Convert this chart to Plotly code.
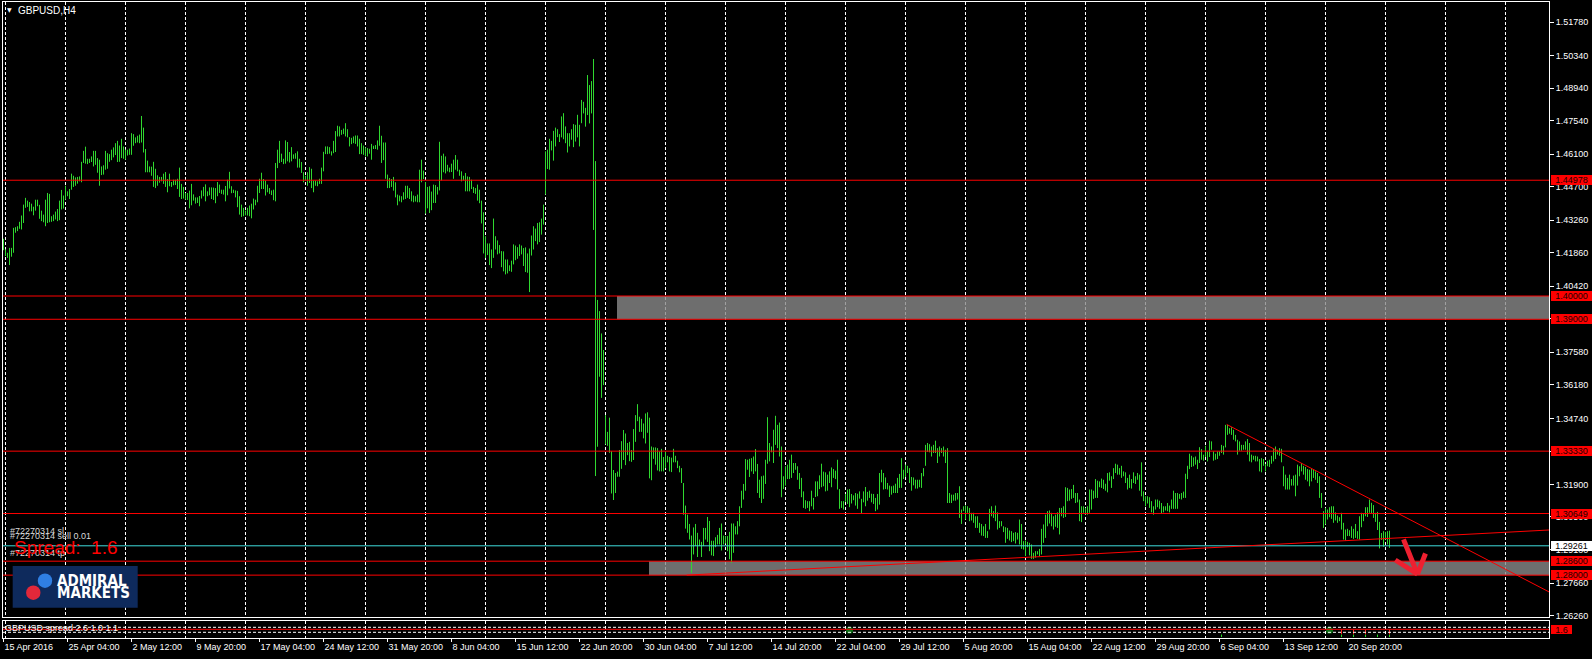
import plotly.graph_objects as go

# ---------------- DATA (H4 bars: high, low) ----------------
bars_apr_may = [
(1.4246,1.4197),(1.4200,1.4172),(1.4186,1.4164),(1.4207,1.4133),(1.4207,1.4169),(1.4293,1.4186),(1.4296,1.4272),(1.4300,1.4279),(1.4319,1.4289),(1.4346,1.4286),
(1.4393,1.4314),(1.4422,1.4379),(1.4410,1.4383),(1.4404,1.4364),(1.4397,1.4364),(1.4384,1.4347),(1.4414,1.4367),(1.4414,1.4386),(1.4392,1.4332),(1.4367,1.4322),
(1.4350,1.4317),(1.4414,1.4300),(1.4443,1.4314),(1.4439,1.4317),(1.4343,1.4319),(1.4350,1.4322),(1.4363,1.4329),(1.4374,1.4322),(1.4410,1.4326),(1.4456,1.4372),
(1.4432,1.4376),(1.4474,1.4414),(1.4450,1.4429),(1.4460,1.4417),(1.4526,1.4457),(1.4517,1.4469),(1.4510,1.4474),(1.4512,1.4483),(1.4514,1.4493),(1.4577,1.4489),
(1.4624,1.4572),(1.4642,1.4569),(1.4590,1.4567),(1.4590,1.4572),(1.4600,1.4576),(1.4624,1.4557),(1.4624,1.4564),(1.4593,1.4530),(1.4586,1.4474),(1.4557,1.4520),
(1.4562,1.4522),(1.4624,1.4543),(1.4614,1.4547),(1.4610,1.4577),(1.4629,1.4584),(1.4639,1.4596),(1.4657,1.4606),(1.4667,1.4576),(1.4647,1.4577),(1.4676,1.4593),
(1.4643,1.4590),(1.4629,1.4586),(1.4629,1.4604),(1.4634,1.4607),(1.4700,1.4607),(1.4696,1.4646),(1.4682,1.4657),(1.4689,1.4660),(1.4694,1.4657),(1.4774,1.4660),
(1.4724,1.4617),(1.4632,1.4532),(1.4582,1.4532),(1.4557,1.4532),(1.4556,1.4517),(1.4577,1.4469),(1.4547,1.4464),(1.4519,1.4474),(1.4512,1.4487),(1.4512,1.4493),
(1.4526,1.4482),(1.4533,1.4469),(1.4503,1.4446),(1.4526,1.4472),(1.4490,1.4469),(1.4500,1.4476),(1.4500,1.4477),(1.4504,1.4460),(1.4552,1.4426),(1.4482,1.4417),
(1.4469,1.4419),(1.4443,1.4414),(1.4443,1.4413),(1.4453,1.4377),(1.4482,1.4390),(1.4437,1.4410),(1.4424,1.4397),(1.4424,1.4400),(1.4430,1.4386),(1.4454,1.4419),
(1.4469,1.4429),(1.4480,1.4407),(1.4450,1.4429),(1.4467,1.4433),(1.4467,1.4417),(1.4466,1.4413),(1.4464,1.4399),(1.4490,1.4429),(1.4479,1.4443),(1.4457,1.4439),
(1.4457,1.4436),(1.4473,1.4407),(1.4500,1.4433),(1.4534,1.4462),(1.4472,1.4442),(1.4457,1.4443),(1.4454,1.4424),(1.4452,1.4382),(1.4429,1.4350),(1.4393,1.4340),
(1.4379,1.4343),(1.4367,1.4347),(1.4379,1.4346),(1.4389,1.4343),(1.4397,1.4334),(1.4419,1.4372),(1.4414,1.4390),(1.4474,1.4403),(1.4504,1.4443),(1.4530,1.4460),
(1.4503,1.4460),(1.4496,1.4432),(1.4479,1.4446),(1.4464,1.4439),(1.4454,1.4434),(1.4457,1.4412),(1.4572,1.4407),(1.4629,1.4550),(1.4667,1.4572),(1.4612,1.4576),
(1.4590,1.4567),(1.4669,1.4569),(1.4662,1.4579),(1.4619,1.4574),(1.4640,1.4579),(1.4609,1.4590),(1.4614,1.4590),(1.4622,1.4552),(1.4590,1.4552),(1.4576,1.4529),
]

bars_may_jun = [
(1.4532,1.4489),(1.4517,1.4496),(1.4532,1.4474),(1.4554,1.4486),(1.4547,1.4464),(1.4496,1.4446),(1.4496,1.4474),(1.4493,1.4472),(1.4504,1.4482),(1.4552,1.4482),
(1.4620,1.4536),(1.4643,1.4610),(1.4643,1.4610),(1.4640,1.4612),(1.4622,1.4604),(1.4667,1.4614),(1.4709,1.4619),(1.4732,1.4686),(1.4729,1.4686),(1.4714,1.4693),
(1.4720,1.4696),(1.4743,1.4686),(1.4717,1.4682),(1.4683,1.4643),(1.4680,1.4653),(1.4686,1.4657),(1.4690,1.4654),(1.4690,1.4643),(1.4676,1.4610),(1.4657,1.4610),
(1.4647,1.4607),(1.4639,1.4600),(1.4636,1.4600),(1.4633,1.4612),(1.4654,1.4586),(1.4646,1.4632),(1.4649,1.4632),(1.4669,1.4629),(1.4732,1.4646),(1.4689,1.4572),
(1.4660,1.4584),(1.4660,1.4504),(1.4522,1.4464),(1.4507,1.4464),(1.4503,1.4469),(1.4512,1.4453),(1.4489,1.4424),(1.4436,1.4390),(1.4432,1.4407),(1.4429,1.4403),
(1.4446,1.4414),(1.4474,1.4417),(1.4474,1.4422),(1.4464,1.4417),(1.4450,1.4407),(1.4432,1.4403),(1.4429,1.4406),(1.4436,1.4403),(1.4543,1.4403),(1.4586,1.4489),
(1.4539,1.4503),(1.4490,1.4354),(1.4469,1.4377),(1.4472,1.4357),(1.4449,1.4369),(1.4479,1.4400),(1.4477,1.4400),(1.4469,1.4436),(1.4663,1.4454),(1.4603,1.4497),
(1.4612,1.4532),(1.4600,1.4527),(1.4564,1.4536),(1.4552,1.4532),(1.4569,1.4533),(1.4586,1.4504),(1.4606,1.4543),(1.4586,1.4536),(1.4543,1.4517),(1.4536,1.4493),
(1.4517,1.4497),(1.4529,1.4450),(1.4514,1.4450),(1.4512,1.4450),(1.4500,1.4460),(1.4469,1.4443),(1.4464,1.4439),(1.4479,1.4410),(1.4457,1.4399),(1.4410,1.4312),
(1.4360,1.4183),(1.4257,1.4164),(1.4226,1.4176),(1.4226,1.4133),(1.4200,1.4120),(1.4333,1.4164),(1.4257,1.4200),(1.4239,1.4179),(1.4219,1.4183),(1.4193,1.4124),
(1.4192,1.4106),(1.4157,1.4093),(1.4157,1.4097),(1.4132,1.4107),(1.4152,1.4104),(1.4222,1.4136),(1.4217,1.4154),(1.4210,1.4160),(1.4222,1.4172),(1.4217,1.4179),
(1.4206,1.4129),(1.4209,1.4103),(1.4183,1.4100),(1.4204,1.4017),(1.4260,1.4174),(1.4300,1.4200),(1.4290,1.4236),(1.4314,1.4222),(1.4317,1.4232),(1.4333,1.4264),
(1.4393,1.4307),(1.4622,1.4436),(1.4629,1.4546),(1.4676,1.4543),(1.4667,1.4626),(1.4710,1.4582),(1.4724,1.4643),(1.4717,1.4683),(1.4696,1.4662),(1.4772,1.4682),
(1.4786,1.4674),(1.4729,1.4657),(1.4700,1.4617),(1.4700,1.4643),(1.4717,1.4672),(1.4739,1.4640),(1.4736,1.4664),(1.4779,1.4682),(1.4736,1.4643),
]

bars_brexit = [
(1.4843,1.4743),(1.4835,1.4785),(1.4809,1.4728),(1.4950,1.4778),(1.4907,1.4742),(1.4924,1.4785),(1.5019,1.4284),(1.4580,1.3226),(1.3983,1.3352),(1.3935,1.3653),
(1.3839,1.3562),(1.3768,1.3617),(1.3488,1.3362),(1.3416,1.3356),(1.3477,1.3326),(1.3333,1.3151),(1.3252,1.3123),(1.3239,1.3153),(1.3245,1.3223),(1.3338,1.3223),
(1.3376,1.3257),(1.3424,1.3295),(1.3409,1.3273),(1.3368,1.3316),(1.3373,1.3290),(1.3338,1.3287),(1.3428,1.3295),(1.3488,1.3373),(1.3535,1.3462),(1.3481,1.3416),
(1.3472,1.3416),(1.3452,1.3388),(1.3495,1.3366),(1.3500,1.3412),(1.3477,1.3216),
]

bars_jun_aug = [
(1.3353,1.3208),(1.3349,1.3300),(1.3349,1.3275),(1.3346,1.3250),(1.3332,1.3246),(1.3343,1.3246),(1.3308,1.3246),(1.3332,1.3260),(1.3313,1.3285),(1.3308,1.3246),
(1.3305,1.3243),(1.3343,1.3285),(1.3313,1.3285),(1.3292,1.3260),(1.3270,1.3242),(1.3260,1.3196),(1.3196,1.3060),(1.3099,1.3000),(1.3060,1.2982),(1.3020,1.2953),
(1.2970,1.2810),(1.3005,1.2889),(1.3020,1.2925),(1.2982,1.2878),(1.2953,1.2925),(1.2943,1.2878),(1.3003,1.2925),(1.3003,1.2953),(1.3050,1.2943),(1.3033,1.2903),
(1.2948,1.2885),(1.2948,1.2882),(1.2963,1.2920),(1.2973,1.2932),(1.3003,1.2932),(1.3022,1.2906),(1.2970,1.2932),(1.2968,1.2936),(1.2968,1.2903),(1.2986,1.2868),
(1.3022,1.2853),(1.3022,1.2896),(1.3010,1.2975),(1.3032,1.2975),(1.3096,1.3010),(1.3163,1.3089),(1.3192,1.3125),(1.3299,1.3163),(1.3296,1.3253),(1.3300,1.3222),
(1.3303,1.3246),(1.3310,1.3235),(1.3342,1.3246),(1.3278,1.3153),(1.3210,1.3132),(1.3225,1.3110),(1.3228,1.3128),(1.3296,1.3192),(1.3479,1.3279),(1.3368,1.3289),
(1.3353,1.3328),(1.3425,1.3282),(1.3485,1.3360),(1.3446,1.3346),(1.3456,1.3310),(1.3353,1.3135),(1.3225,1.3170),(1.3268,1.3185),(1.3275,1.3213),(1.3296,1.3213),
(1.3318,1.3218),(1.3282,1.3239),(1.3282,1.3253),(1.3268,1.3210),(1.3239,1.3170),(1.3218,1.3135),(1.3160,1.3089),(1.3122,1.3085),(1.3118,1.3089),(1.3118,1.3075),
(1.3163,1.3096),(1.3132,1.3082),(1.3203,1.3136),(1.3203,1.3139),(1.3229,1.3170),(1.3279,1.3178),(1.3245,1.3182),(1.3242,1.3160),(1.3232,1.3163),(1.3246,1.3196),
(1.3263,1.3178),(1.3256,1.3218),(1.3249,1.3213),(1.3296,1.3168),(1.3170,1.3085),(1.3118,1.3089),(1.3118,1.3082),(1.3149,1.3115),(1.3168,1.3106),(1.3170,1.3092),
(1.3149,1.3108),(1.3143,1.3122),(1.3153,1.3099),(1.3150,1.3085),(1.3160,1.3129),(1.3128,1.3063),(1.3160,1.3113),(1.3179,1.3096),(1.3158,1.3120),(1.3163,1.3132),
(1.3150,1.3113),(1.3149,1.3106),(1.3132,1.3075),(1.3149,1.3082),(1.3239,1.3103),(1.3253,1.3199),(1.3239,1.3168),(1.3220,1.3170),(1.3196,1.3168),(1.3185,1.3136),
(1.3182,1.3146),(1.3185,1.3153),(1.3193,1.3153),(1.3218,1.3153),(1.3235,1.3175),(1.3303,1.3175),(1.3253,1.3213),(1.3275,1.3222),(1.3270,1.3239),(1.3260,1.3196),
(1.3222,1.3163),(1.3220,1.3186),(1.3210,1.3172),(1.3210,1.3172),(1.3210,1.3178),(1.3239,1.3175),(1.3260,1.3225),(1.3360,1.3270),(1.3368,1.3330),(1.3363,1.3328),
(1.3353,1.3310),(1.3360,1.3325),(1.3378,1.3325),(1.3346,1.3282),(1.3353,1.3310),(1.3346,1.3325),(1.3353,1.3310),(1.3339,1.3282),(1.3346,1.3110),(1.3153,1.3110),
(1.3146,1.3110),(1.3146,1.3120),(1.3153,1.3120),(1.3153,1.3125),(1.3182,1.3046),(1.3082,1.3020),(1.3096,1.3075),(1.3100,1.3039),(1.3096,1.3068),(1.3089,1.3032),
(1.3068,1.3035),(1.3068,1.3025),(1.3053,1.3003),(1.3053,1.3003),(1.3025,1.2982),
]

bars_aug_sep = [
(1.3020,1.2970),(1.3010,1.2968),(1.3020,1.2960),(1.2989,1.2960),(1.3085,1.2996),(1.3096,1.3053),(1.3075,1.3046),(1.3099,1.3032),(1.3070,1.2996),(1.3032,1.3003),
(1.3032,1.3010),(1.3010,1.2985),(1.3006,1.2939),(1.3003,1.2956),(1.2992,1.2949),(1.2989,1.2942),(1.2982,1.2946),(1.2985,1.2936),(1.2982,1.2953),(1.3039,1.2932),
(1.3020,1.2913),(1.2946,1.2910),(1.2949,1.2882),(1.2943,1.2920),(1.2939,1.2885),(1.2932,1.2870),(1.2896,1.2870),(1.2903,1.2875),(1.2903,1.2889),(1.2913,1.2882),
(1.2999,1.2889),(1.3018,1.2939),(1.3060,1.2960),(1.3075,1.3010),(1.3078,1.3022),(1.3068,1.3010),(1.3053,1.2996),(1.3060,1.3008),(1.3070,1.3003),(1.3089,1.2975),
(1.3089,1.3053),(1.3096,1.3046),(1.3178,1.3050),(1.3175,1.3118),(1.3168,1.3120),(1.3170,1.3128),(1.3188,1.3132),(1.3153,1.3110),(1.3153,1.3113),(1.3125,1.3032),
(1.3096,1.3028),(1.3096,1.3068),(1.3089,1.3060),(1.3096,1.3060),(1.3168,1.3068),(1.3168,1.3082),(1.3163,1.3128),(1.3213,1.3132),(1.3206,1.3132),(1.3203,1.3178),
(1.3215,1.3175),(1.3210,1.3170),(1.3193,1.3163),(1.3239,1.3156),(1.3242,1.3206),(1.3225,1.3175),(1.3260,1.3213),(1.3279,1.3239),(1.3275,1.3232),(1.3260,1.3232),
(1.3270,1.3218),(1.3246,1.3225),(1.3242,1.3196),(1.3218,1.3168),(1.3232,1.3175),(1.3213,1.3172),(1.3242,1.3196),(1.3225,1.3192),(1.3239,1.3210),(1.3232,1.3163),
(1.3285,1.3139),(1.3160,1.3118),(1.3139,1.3096),(1.3139,1.3108),(1.3135,1.3089),(1.3118,1.3070),(1.3096,1.3060),(1.3125,1.3082),(1.3125,1.3092),(1.3120,1.3085),
(1.3110,1.3065),(1.3096,1.3070),(1.3096,1.3078),(1.3110,1.3075),(1.3099,1.3070),(1.3125,1.3085),(1.3163,1.3085),(1.3153,1.3085),(1.3153,1.3085),(1.3149,1.3128),
(1.3153,1.3125),(1.3159,1.3132),(1.3236,1.3132),(1.3270,1.3213),(1.3322,1.3256),(1.3313,1.3265),(1.3306,1.3268),(1.3310,1.3275),(1.3296,1.3256),(1.3350,1.3282),
(1.3342,1.3296),(1.3318,1.3292),(1.3356,1.3308),(1.3332,1.3289),(1.3378,1.3308),(1.3375,1.3339),(1.3332,1.3292),(1.3322,1.3296),(1.3332,1.3299),(1.3332,1.3313),
(1.3360,1.3325),(1.3356,1.3318),(1.3446,1.3349),(1.3446,1.3403),(1.3432,1.3408),(1.3436,1.3403),(1.3425,1.3382),(1.3403,1.3375),(1.3382,1.3318),(1.3375,1.3335),
(1.3360,1.3335),(1.3360,1.3339),(1.3375,1.3339),(1.3385,1.3318),(1.3368,1.3289),(1.3318,1.3285),(1.3313,1.3296),(1.3313,1.3289),(1.3310,1.3289),(1.3299,1.3246),
(1.3303,1.3242),(1.3299,1.3270),(1.3278,1.3246),(1.3292,1.3268),(1.3296,1.3265),(1.3313,1.3279),(1.3343,1.3289),(1.3353,1.3299),(1.3339,1.3318),(1.3346,1.3313),
(1.3343,1.3285),(1.3268,1.3182),(1.3232,1.3168),(1.3218,1.3168),(1.3232,1.3168),(1.3213,1.3185),(1.3228,1.3185),(1.3232,1.3139),(1.3275,1.3185),(1.3268,1.3225),
(1.3282,1.3246),(1.3270,1.3232),(1.3265,1.3210),(1.3256,1.3203),(1.3253,1.3182),(1.3256,1.3203),(1.3253,1.3218),(1.3246,1.3210),(1.3239,1.3196),(1.3225,1.3132),
(1.3153,1.3089),(1.3075,1.3003),(1.3089,1.3018),(1.3082,1.3039),(1.3092,1.3049),(1.3096,1.3042),(1.3096,1.3025),(1.3070,1.3035),(1.3056,1.3025),(1.3049,1.3032),
(1.3068,1.2996),(1.3025,1.2953),(1.2996,1.2949),(1.2999,1.2968),(1.2993,1.2968),(1.3010,1.2960),(1.2999,1.2956),(1.3020,1.2960),(1.2989,1.2956),(1.3053,1.2953),
(1.3068,1.3006),(1.3065,1.3032),(1.3092,1.3053),(1.3092,1.3050),(1.3125,1.3068),
]

bars_last = [
(1.3111,1.3065),(1.3101,1.3046),(1.3068,1.3029),(1.3072,1.2994),(1.3029,1.2915),(1.2981,1.2951),(1.2989,1.2922),(1.2986,1.2953),(1.2989,1.2932),(1.2991,1.2917),
]

date_labels = ["15 Apr 2016", "25 Apr 04:00", "2 May 12:00", "9 May 20:00", "17 May 04:00",
               "24 May 12:00", "31 May 20:00", "8 Jun 04:00", "15 Jun 12:00", "22 Jun 20:00",
               "30 Jun 04:00", "7 Jul 12:00", "14 Jul 20:00", "22 Jul 04:00", "29 Jul 12:00",
               "5 Aug 20:00", "15 Aug 04:00", "22 Aug 12:00", "29 Aug 20:00", "6 Sep 04:00",
               "13 Sep 12:00", "20 Sep 20:00"]
BARS_PER_LABEL = 32
GRID_FIRST, BARS_PER_GRID = 1, 30

price_ticks = [1.5178, 1.5034, 1.4894, 1.4754, 1.4610, 1.4470, 1.4326, 1.4186, 1.4042, 1.3902,
               1.3758, 1.3618, 1.3474, 1.3330, 1.3190, 1.3050, 1.2910, 1.2766, 1.2626]

red_levels = [1.44978, 1.40000, 1.39000, 1.33330, 1.30649, 1.28600, 1.28000]
bid_price = 1.29261
zones = [(306.75, 1.3900, 1.4000), (322.75, 1.2800, 1.2860)]   # (start bar, low, high)
trend_up = [(341.6, 1.2800), (772.75, 1.2994)]
trend_down = [(611.6, 1.3448), (772.75, 1.2728)]
arrow_shaft = [(700.0, 1.2954), (707.0, 1.2804)]
arrow_arms = [(695.9, 1.2865), (711.0, 1.2893)]

spread_now = 1.6
spread_levels = [2.0, 1.0]
spread_dots_x = [423, 663]
spread_dot_val = 1.4
spread_red_x = [669, 675, 681, 693]
spread_green_x = [609, 669, 675, 681, 687, 693]

# ---------------- FIGURE ----------------
W, H = 1592, 659
ML, MR, MT, MB = 3, 43, 2, 21
PW, PH = W - ML - MR, H - MT - MB
X_RANGE = [-0.25, 772.75]
Y_RANGE = [1.2620, 1.5264]
MAIN_BOTTOM_PX, SUB_TOP_PX = 617, 620.5
BAR_GREEN = "#2fd82f"
RED = "#ff0000"

def xp(pix):
    return (pix - ML) / PW

def yp(pix):
    return (H - MB - pix) / PH

all_bars = bars_apr_may + bars_may_jun + bars_brexit + bars_jun_aug + bars_aug_sep + bars_last

fig = go.Figure()

bx, by = [], []
for i, (hi, lo) in enumerate(all_bars):
    bx += [i, i, None]
    by += [hi, lo, None]
fig.add_trace(go.Scatter(x=bx, y=by, mode="lines", line=dict(color=BAR_GREEN, width=1),
                         xaxis="x", yaxis="y", hoverinfo="skip", showlegend=False))

# sub-window indicator
sx, sy = [], []
for i in spread_green_x:
    sx += [i, i, None]; sy += [0.55, 0.05, None]
fig.add_trace(go.Scatter(x=sx, y=sy, mode="lines", line=dict(color="#22dd22", width=1),
                         xaxis="x2", yaxis="y2", hoverinfo="skip", showlegend=False))
rx, ry = [], []
for i in spread_red_x:
    rx += [i, i, None]; ry += [1.55, 0.6, None]
fig.add_trace(go.Scatter(x=rx, y=ry, mode="lines", line=dict(color="#ff2020", width=1),
                         xaxis="x2", yaxis="y2", hoverinfo="skip", showlegend=False))
fig.add_trace(go.Scatter(x=spread_dots_x, y=[spread_dot_val] * len(spread_dots_x), mode="markers",
                         marker=dict(color="#0a6e14", size=7), xaxis="x2", yaxis="y2",
                         hoverinfo="skip", showlegend=False))

shapes = []
for start, lo, hi in zones:
    shapes.append(dict(type="rect", xref="x", yref="y", x0=start, x1=X_RANGE[1], y0=lo, y1=hi,
                       fillcolor="#8a8a8a", opacity=0.8, line=dict(width=0), layer="between"))
for lv in red_levels:
    shapes.append(dict(type="line", xref="x domain", yref="y", x0=0, x1=1, y0=lv, y1=lv,
                       line=dict(color=RED, width=1), layer="above"))
shapes.append(dict(type="line", xref="x domain", yref="y", x0=0, x1=1, y0=bid_price, y1=bid_price,
                   line=dict(color="#3fdcdc", width=1), layer="above"))
for (a, b) in (trend_up, trend_down):
    shapes.append(dict(type="line", xref="x", yref="y", x0=a[0], y0=a[1], x1=b[0], y1=b[1],
                       line=dict(color=RED, width=1), layer="above"))
tip = arrow_shaft[1]
shapes.append(dict(type="line", xref="x", yref="y", x0=arrow_shaft[0][0], y0=arrow_shaft[0][1],
                   x1=tip[0], y1=tip[1], line=dict(color="#ee2030", width=5), layer="above"))
for arm in arrow_arms:
    shapes.append(dict(type="line", xref="x", yref="y", x0=arm[0], y0=arm[1], x1=tip[0], y1=tip[1],
                       line=dict(color="#ee2030", width=5), layer="above"))
for lv in spread_levels:
    shapes.append(dict(type="line", xref="x2 domain", yref="y2", x0=0, x1=1, y0=lv, y1=lv,
                       line=dict(color="white", width=1, dash="3px,2px"), layer="above"))
shapes.append(dict(type="line", xref="x2 domain", yref="y2", x0=0, x1=1, y0=spread_now, y1=spread_now,
                   line=dict(color=RED, width=1), layer="above"))
# logo
shapes.append(dict(type="rect", xref="paper", yref="paper", x0=xp(12.7), x1=xp(137.7),
                   y0=yp(607.7), y1=yp(566), fillcolor="#0e2a5c", line=dict(width=0), layer="above"))
for cx, cy, col in ((45, 580.7, "#2f7fe3"), (33.3, 592.7, "#e2283a")):
    r = 7.2
    shapes.append(dict(type="circle", xref="paper", yref="paper", x0=xp(cx - r), x1=xp(cx + r),
                       y0=yp(cy + r), y1=yp(cy - r), fillcolor=col, line=dict(width=0), layer="above"))

ann = []
LBL_FONT = "Liberation Sans, Arial, sans-serif"
for lv in red_levels:
    ann.append(dict(xref="paper", yref="y", x=1, y=lv, xanchor="left", xshift=2, yanchor="middle",
                    text=f"{lv:.5f}", showarrow=False, bgcolor=RED, width=41, height=10,
                    borderpad=0, borderwidth=0, align="center",
                    font=dict(family=LBL_FONT, size=9, color="#200000")))
ann.append(dict(xref="paper", yref="y", x=1, y=bid_price, xanchor="left", xshift=2, yanchor="middle",
                text=f"{bid_price:.5f}", showarrow=False, bgcolor="#ffffff", width=41, height=10,
                borderpad=0, borderwidth=0, align="center",
                font=dict(family=LBL_FONT, size=9, color="#000000")))
ann.append(dict(xref="paper", yref="y2", x=1, y=spread_now, xanchor="left", xshift=2, yanchor="middle",
                text=f"{spread_now:.1f}", showarrow=False, bgcolor=RED, width=21, height=9,
                borderpad=0, borderwidth=0, align="center",
                font=dict(family=LBL_FONT, size=9, color="#200000")))
ann.append(dict(xref="paper", yref="paper", x=xp(5.5), y=yp(9.8), xanchor="left", yanchor="middle",
                text="▼", showarrow=False, borderpad=0,
                font=dict(family="DejaVu Sans", size=6, color="white")))
ann.append(dict(xref="paper", yref="paper", x=xp(17), y=yp(10.5), xanchor="left", yanchor="middle",
                text="GBPUSD,H4", showarrow=False, borderpad=0,
                font=dict(family=LBL_FONT, size=10, color="white")))
for txt, ypx in (("#72270314 sl", 531.0), ("#72270314 sell 0.01", 536.0), ("#72270314 tp", 552.5)):
    ann.append(dict(xref="paper", yref="paper", x=xp(9), y=yp(ypx), xanchor="left", yanchor="middle",
                    text=txt, showarrow=False, borderpad=0,
                    font=dict(family=LBL_FONT, size=9, color="#d8d8d8")))
ann.append(dict(xref="paper", yref="paper", x=xp(13), y=yp(547), xanchor="left", yanchor="middle",
                text="Spread:  1.6", showarrow=False, borderpad=0,
                font=dict(family=LBL_FONT, size=19, color=RED)))
for txt, ypx in (("ADMIRAL", 580.7), ("MARKETS", 593.0)):
    ann.append(dict(xref="paper", yref="paper", x=xp(55.5), y=yp(ypx), xanchor="left", yanchor="middle",
                    text=f"<b>{txt}</b>", showarrow=False, borderpad=0,
                    font=dict(family="Liberation Sans Narrow, DejaVu Sans Condensed, sans-serif",
                              size=15, color="white")))
ann.append(dict(xref="paper", yref="paper", x=xp(4), y=yp(628), xanchor="left", yanchor="middle",
                text="GBPUSD spread 2.6 1.0 1.1", showarrow=False, borderpad=0,
                font=dict(family=LBL_FONT, size=9, color="white")))

grid_vals = list(range(GRID_FIRST, int(X_RANGE[1]) + 1, BARS_PER_GRID))
label_vals = [k * BARS_PER_LABEL for k in range(len(date_labels))]
minor_grid = dict(tickmode="array", tickvals=grid_vals, showgrid=True, gridcolor="white",
                  griddash="3px,2px", gridwidth=1, ticks="")
frame = dict(showline=True, mirror=True, linecolor="white", linewidth=1, zeroline=False, showgrid=False)

main_lo = (H - MB - MAIN_BOTTOM_PX) / PH
sub_hi = (H - MB - SUB_TOP_PX) / PH

fig.update_layout(
    width=W, height=H, margin=dict(l=ML, r=MR, t=MT, b=MB, pad=0),
    paper_bgcolor="black", plot_bgcolor="black", showlegend=False,
    xaxis=dict(domain=[0, 1], range=X_RANGE, anchor="y", showticklabels=False, ticks="",
               minor=minor_grid, **frame),
    yaxis=dict(domain=[main_lo, 1], range=Y_RANGE, anchor="x", side="right", tickmode="array",
               tickvals=price_ticks, ticktext=[f"{v:.5f}" for v in price_ticks],
               ticks="outside", ticklen=4, tickcolor="white",
               tickfont=dict(family=LBL_FONT, size=9, color="white"), **frame),
    xaxis2=dict(domain=[0, 1], range=X_RANGE, anchor="y2", tickmode="array", tickvals=label_vals,
                ticktext=date_labels, ticks="outside", ticklen=3, tickcolor="white",
                ticklabelposition="outside right",
                tickfont=dict(family=LBL_FONT, size=9, color="white"), minor=minor_grid, **frame),
    yaxis2=dict(domain=[0, sub_hi], range=[-0.14, 3.36], anchor="x2", showticklabels=False, ticks="",
                **frame),
    shapes=shapes, annotations=ann,
)

fig.write_html("out.html", config={"displayModeBar": False},
               post_script="document.body.style.margin='0';document.body.style.overflow='hidden';")
